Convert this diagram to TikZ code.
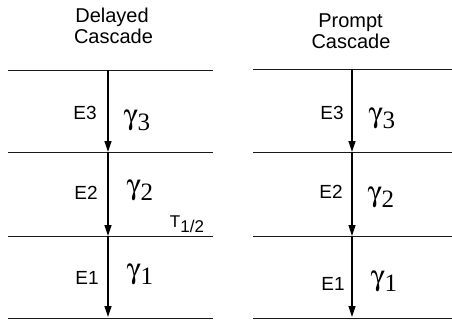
\documentclass[tikz,border=0pt]{standalone}
\usepackage{fontspec}
\usepackage[Symbol]{upgreek}
\setmainfont{Liberation Sans}
\newfontfamily\digitfont{Liberation Serif}
\usetikzlibrary{arrows.meta}
% gamma with a lowered index, as set with the Symbol font
\newcommand{\gam}[1]{\scalebox{1.15}{$\upgamma$}\raisebox{-6pt}{\digitfont #1}}
\begin{document}
\begin{tikzpicture}[x=1pt,y=-1pt,
  level/.style={line width=0.9pt, draw=black!90},
  trans/.style={line width=1.2pt, -{Triangle[length=11pt,width=7pt]}},
  head/.style={font=\fontsize{20}{22}\selectfont, anchor=base, inner sep=0pt},
  elabel/.style={font=\fontsize{19}{19}\selectfont, anchor=center, inner sep=0pt},
  glabel/.style={font=\fontsize{25}{25}\selectfont, anchor=center, inner sep=0pt},
  tlabel/.style={font=\fontsize{17}{17}\selectfont, anchor=center, inner sep=0pt}]
\useasboundingbox (0,0) rectangle (452,322);

% ---- headings
\node[head] (dh1) at (112,22.5) {Delayed};
\node[head] (dh2) at (113.5,43) {Cascade};
\node[head] (ph1) at (350.5,27) {Prompt};
\node[head] (ph2) at (351,48) {Cascade};

% ---- energy levels, delayed cascade
\foreach \n/\y in {3/70,2/152,1/236,0/318}{
  \coordinate (dL\n) at (8,\y);
  \coordinate (dR\n) at (213,\y);
  \coordinate (dA\n) at (108,\y);
  \draw[level] (dL\n) -- (dR\n);
}
% ---- energy levels, prompt cascade
\foreach \n/\y in {3/69,2/152,1/236,0/318}{
  \coordinate (pL\n) at (253,\y);
  \coordinate (pR\n) at (452,\y);
  \coordinate (pA\n) at (352,\y);
  \draw[level] (pL\n) -- (pR\n);
}

% ---- gamma transitions
\draw[trans] (dA3) -- (dA2);
\draw[trans] (dA2) -- (dA1);
\draw[trans] (dA1) -- ([yshift=1pt]dA0);
\draw[trans] (pA3) -- (pA2);
\draw[trans] (pA2) -- (pA1);
\draw[trans] (pA1) -- ([yshift=1pt]pA0);

% ---- level energies
\node[elabel] (dE3) at (85,113) {E3};
\node[elabel] (dE2) at (86,193) {E2};
\node[elabel] (dE1) at (87,278) {E1};
\node[elabel] (pE3) at (332,113) {E3};
\node[elabel] (pE2) at (331,192) {E2};
\node[elabel] (pE1) at (333,284) {E1};

% ---- gamma labels
\node[glabel] (dg3) at (137,121) {\gam{3}};
\node[glabel] (dg2) at (140,191) {\gam{2}};
\node[glabel] (dg1) at (140,275) {\gam{1}};
\node[glabel] (pg3) at (382,119) {\gam{3}};
\node[glabel] (pg2) at (381,198) {\gam{2}};
\node[glabel] (pg1) at (384,282) {\gam{1}};

% ---- half-life of the intermediate level
\node[tlabel] (thalf) at (187,224) {T\raisebox{-5pt}{1/2}};
\end{tikzpicture}
\end{document}
